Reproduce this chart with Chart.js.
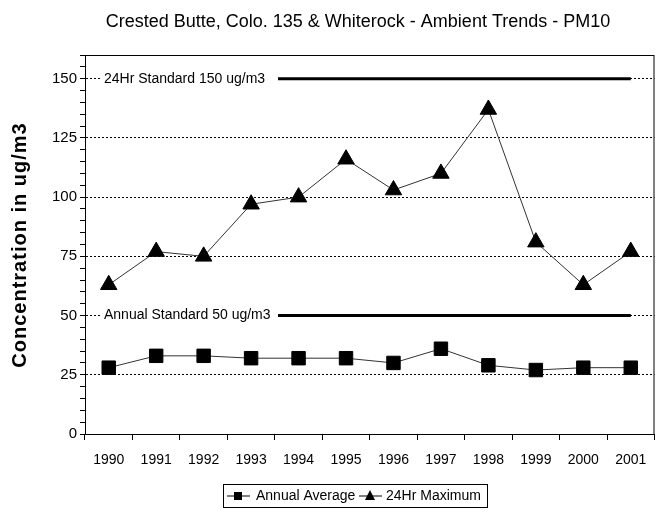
<!DOCTYPE html>
<html>
<head>
<meta charset="utf-8">
<script src="https://cdn.jsdelivr.net/npm/chart.js@4.4.1/dist/chart.umd.min.js"></script>
<style>
  html, body { margin: 0; padding: 0; background: #fff; }
  #wrap { width: 665px; height: 512px; }
</style>
</head>
<body>
<div id="wrap"><canvas id="grafico" width="665" height="512"></canvas></div>
<script>
// --- dados ---
const anos = ["1990", "1991", "1992", "1993", "1994", "1995", "1996", "1997", "1998", "1999", "2000", "2001"];
const mediaAnual = [28, 33, 33, 32, 32, 32, 30, 36, 29, 27, 28, 28];
const maximo24h = [63, 77, 75, 97, 100, 116, 103, 110, 137, 81, 63, 77];
const padrao24h = 150;
const padraoAnual = 50;
const rotuloPadrao24h = "24Hr Standard 150 ug/m3";
const rotuloPadraoAnual = "Annual Standard 50 ug/m3";
const titulo = "Crested Butte, Colo. 135 & Whiterock - Ambient Trends - PM10";
const tituloY = "Concentration in ug/m3";

const fonte = "'Liberation Sans', Arial, sans-serif";

// --- desenha título, moldura, rótulos dos padrões e legenda ---
const extras = {
  id: "extras",
  afterDatasetsDraw(chart) {
    const { ctx, chartArea: a, scales } = chart;
    const y = scales.y;
    ctx.save();

    // rótulos dos padrões (fundo branco cobre a linha)
    ctx.font = "14px " + fonte;
    ctx.textBaseline = "middle";
    [[padrao24h, rotuloPadrao24h], [padraoAnual, rotuloPadraoAnual]].forEach(([v, txt]) => {
      const py = y.getPixelForValue(v);
      ctx.fillStyle = "#fff";
      ctx.fillRect(100, py - 9, 178, 18);
      ctx.fillStyle = "#000";
      ctx.textAlign = "left";
      ctx.fillText(txt, 104, py);
    });

    // moldura
    ctx.strokeStyle = "#000";
    ctx.lineWidth = 1;
    ctx.strokeRect(a.left + 0.5, a.top + 0.5, a.right - a.left - 1, a.bottom - a.top);
    ctx.restore();
  },
  afterDraw(chart) {
    const { ctx } = chart;
    ctx.save();

    // título
    ctx.fillStyle = "#000";
    ctx.font = "18px " + fonte;
    ctx.textAlign = "center";
    ctx.textBaseline = "middle";
    ctx.fillText(titulo, 358, 22);

    // título do eixo Y
    ctx.save();
    ctx.translate(20, 245);
    ctx.rotate(-Math.PI / 2);
    ctx.font = "bold 20px " + fonte;
    ctx.letterSpacing = "1px";
    ctx.fillText(tituloY, 0, 0);
    ctx.restore();

    // legenda
    ctx.strokeStyle = "#000";
    ctx.lineWidth = 1;
    ctx.strokeRect(223.5, 484.5, 264, 23);
    ctx.font = "14px " + fonte;
    ctx.textAlign = "left";
    ctx.textBaseline = "middle";
    const ly = 496;

    ctx.beginPath();
    ctx.moveTo(227, ly); ctx.lineTo(250, ly);
    ctx.stroke();
    ctx.fillRect(234, ly - 4, 8, 8);
    ctx.fillText("Annual Average", 256, ly);

    ctx.beginPath();
    ctx.moveTo(359, ly); ctx.lineTo(382, ly);
    ctx.stroke();
    ctx.beginPath();
    ctx.moveTo(370, ly - 6); ctx.lineTo(375, ly + 4); ctx.lineTo(365, ly + 4);
    ctx.closePath();
    ctx.fill();
    ctx.fillText("24Hr Maximum", 386, ly);

    ctx.restore();
  }
};

const ctx = document.getElementById("grafico").getContext("2d");

new Chart(ctx, {
  type: "line",
  data: {
    labels: anos,
    datasets: [
      {
        label: "Annual Average",
        data: mediaAnual,
        borderColor: "#333",
        borderWidth: 1,
        pointStyle: "rect",
        pointRadius: 9.5,
        pointBackgroundColor: "#000",
        pointBorderColor: "#000",
        pointBorderWidth: 1,
        tension: 0
      },
      {
        label: "24Hr Maximum",
        data: maximo24h,
        borderColor: "#333",
        borderWidth: 1,
        pointStyle: "triangle",
        pointRadius: 9.5,
        pointBackgroundColor: "#000",
        pointBorderColor: "#000",
        pointBorderWidth: 1,
        tension: 0
      },
      {
        label: rotuloPadrao24h,
        data: anos.map(() => padrao24h),
        borderColor: "#000",
        borderWidth: 3,
        pointRadius: 0
      },
      {
        label: rotuloPadraoAnual,
        data: anos.map(() => padraoAnual),
        borderColor: "#000",
        borderWidth: 3,
        pointRadius: 0
      }
    ]
  },
  options: {
    responsive: false,
    animation: false,
    layout: { padding: { left: 0, right: 7, top: 55, bottom: 0 } },
    plugins: {
      legend: { display: false },
      title: { display: false },
      tooltip: { enabled: false }
    },
    scales: {
      x: {
        type: "category",
        offset: true,
        grid: {
          offset: true,
          drawOnChartArea: false,
          tickLength: 6,
          tickColor: "#000"
        },
        border: { color: "#000", width: 1 },
        ticks: {
          color: "#000",
          font: { family: fonte, size: 14 },
          padding: 12,
          maxRotation: 0
        },
        afterFit(scale) { scale.height = 78; }
      },
      y: {
        min: 0,
        max: 160,
        grid: {
          color: c => (c.tick && c.tick.value % 25 === 0 && c.tick.value > 0 && c.tick.value < 160) ? "#000" : "rgba(0,0,0,0)",
          lineWidth: 1,
          tickLength: 5,
          tickColor: "#000"
        },
        border: { color: "#000", width: 1, dash: [2, 2] },
        ticks: {
          stepSize: 5,
          autoSkip: false,
          color: "#000",
          padding: 3,
          font: { family: fonte, size: 15 },
          callback: v => (v % 25 === 0 ? v : "")
        },
        afterFit(scale) { scale.width = 85; }
      }
    }
  },
  plugins: [extras]
});
</script>
</body>
</html>
